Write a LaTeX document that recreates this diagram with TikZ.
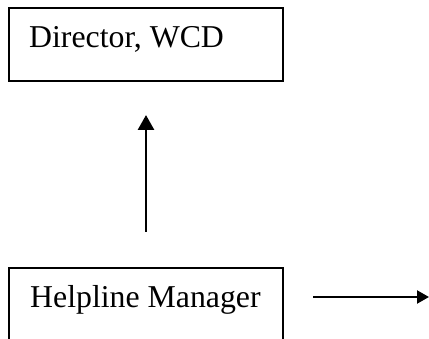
\documentclass[tikz,border=0pt]{standalone}
\usepackage{fontspec}
\setmainfont{Liberation Serif}
\usetikzlibrary{arrows.meta}
\begin{document}
\begin{tikzpicture}[x=1pt,y=-1pt,
  box/.style={draw=black,line width=2pt,rectangle,minimum width=274pt,minimum height=73pt,inner sep=0pt,anchor=north west},
  lbl/.style={inner sep=0pt,anchor=base west,font=\fontsize{31.8}{36}\selectfont},
  conn/.style={line width=2.8pt,-{Triangle[length=15pt,width=16pt]}},
  conn2/.style={line width=2.2pt,-{Triangle[length=12pt,width=13pt]}}]
\useasboundingbox (0,0) rectangle (429,339);
\begin{scope}
\clip (0,0) rectangle (429,339);
\node[box] (dir) at (8,7) {};
\node[box,minimum height=75pt] (hm) at (8,267) {};
\end{scope}
\node[lbl] (dirtext) at (29,48) {Director, WCD};
\node[lbl] (hmtext) at (30,308) {Helpline Manager};
\draw[conn,shorten <=35pt,shorten >=33pt] (hm.north -| 146,0) -- (dir.south -| 146,0);
\coordinate (r1) at (313,297);
\coordinate (r2) at (429,297);
\draw[conn2] (r1) -- (r2);
\end{tikzpicture}
\end{document}
